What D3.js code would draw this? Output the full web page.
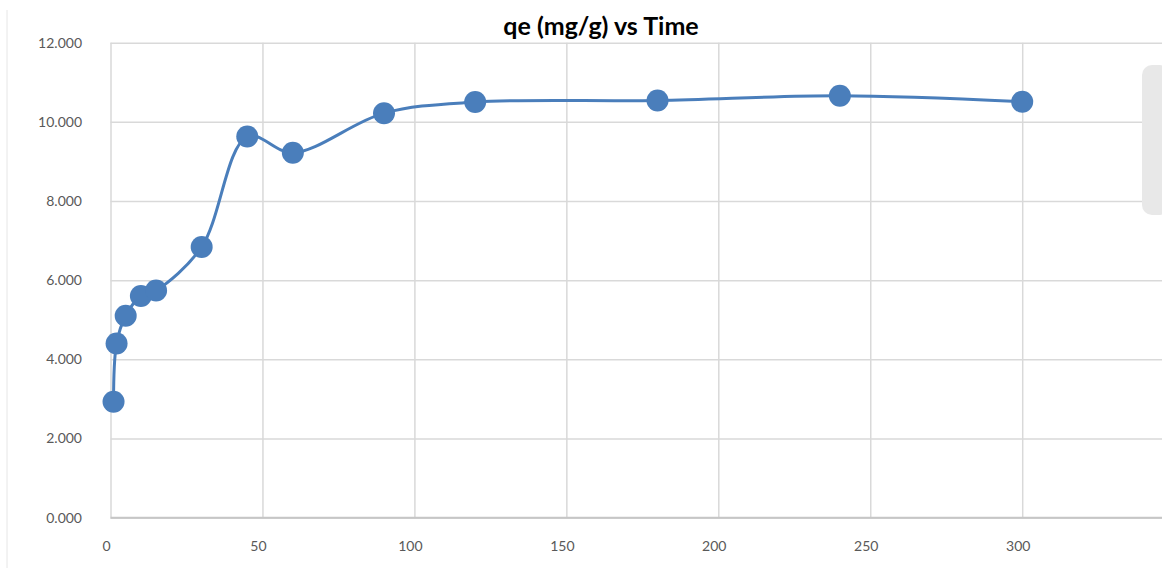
<!DOCTYPE html>
<html>
<head>
<meta charset="utf-8">
<script src="https://cdn.jsdelivr.net/npm/d3@7"></script>
<style>
  body { margin: 0; background: #fff; }
  svg { display: block; }
</style>
</head>
<body>
<svg id="chart" width="1174" height="568"></svg>
<script>
// time (min) and qe (mg/g)
var times = [1, 2, 5, 10, 15, 30, 45, 60, 90, 120, 180, 240, 300];
var qe = [2.93, 4.40, 5.10, 5.60, 5.74, 6.84, 9.63, 9.22, 10.22, 10.50, 10.54, 10.66, 10.51];
var xTicks = [0, 50, 100, 150, 200, 250, 300];
var yTicks = [0, 2, 4, 6, 8, 10, 12];
var title = "qe (mg/g) vs Time";

var svg = d3.select("#chart");
var plotLeft = 110.5, plotRight = 1162, plotTop = 42.7, plotBottom = 517.7;

var x = d3.scaleLinear().domain([0, 346]).range([plotLeft, plotRight]);
var y = d3.scaleLinear().domain([0, 12]).range([plotBottom, plotTop]);

// faint frame line on the left
svg.append("line")
  .attr("x1", 7).attr("x2", 7)
  .attr("y1", 10).attr("y2", 568)
  .style("stroke", "#e6e6e6")
  .style("stroke-width", 1);

// horizontal gridlines
svg.append("g")
  .attr("transform", "translate(" + plotLeft + ",0)")
  .call(d3.axisLeft(y).tickValues(yTicks).tickSize(-(plotRight - plotLeft)).tickFormat(""))
  .call(function(g) {
    g.select(".domain").remove();
    g.selectAll("line").style("stroke", "#d9d9d9").style("stroke-width", 1.5);
  });

// vertical gridlines
svg.append("g")
  .attr("transform", "translate(0," + plotBottom + ")")
  .call(d3.axisBottom(x).tickValues(xTicks).tickSize(-(plotBottom - plotTop)).tickFormat(""))
  .call(function(g) {
    g.select(".domain").remove();
    g.selectAll("line").style("stroke", "#d9d9d9").style("stroke-width", 1.5);
  });

// bottom axis line
svg.append("line")
  .attr("x1", plotLeft).attr("x2", plotRight)
  .attr("y1", plotBottom).attr("y2", plotBottom)
  .style("stroke", "#c6c6c6")
  .style("stroke-width", 2);

// y labels
svg.append("g")
  .selectAll("text")
  .data(yTicks)
  .enter()
  .append("text")
    .attr("x", 82)
    .attr("y", function(d) { return y(d); })
    .attr("dy", "0.35em")
    .attr("text-anchor", "end")
    .text(function(d) { return d3.format(".3f")(d); })
    .style("font-family", "Lato")
    .style("font-size", "14px")
    .style("fill", "#595959");

// x labels
svg.append("g")
  .selectAll("text")
  .data(xTicks)
  .enter()
  .append("text")
    .attr("x", function(d) { return x(d) - 4; })
    .attr("y", 546)
    .attr("dy", "0.35em")
    .attr("text-anchor", "middle")
    .text(function(d) { return d; })
    .style("font-family", "Lato")
    .style("font-size", "14px")
    .style("fill", "#595959");

// scrollbar-like grey box at the right
svg.append("rect")
  .attr("x", 1142).attr("y", 65)
  .attr("width", 28).attr("height", 150)
  .attr("rx", 10)
  .style("fill", "#e8e8e8");
svg.append("rect")
  .attr("x", 1162).attr("y", 0)
  .attr("width", 12).attr("height", 568)
  .style("fill", "#fff");

var pts = times.map(function(t, i) { return [t, qe[i]]; });

var line = d3.line()
  .x(function(d) { return x(d[0]); })
  .y(function(d) { return y(d[1]); })
  .curve(d3.curveCatmullRom.alpha(0.5));

svg.append("path")
  .datum(pts)
  .attr("d", line)
  .style("fill", "none")
  .style("stroke", "#4a7ebb")
  .style("stroke-width", 3);

svg.append("g")
  .selectAll("circle")
  .data(pts)
  .enter()
  .append("circle")
    .attr("cx", function(d) { return x(d[0]); })
    .attr("cy", function(d) { return y(d[1]); })
    .attr("r", 11)
    .style("fill", "#4a7ebb");

svg.append("text")
  .attr("x", 601)
  .attr("y", 26)
  .attr("dy", "0.35em")
  .attr("text-anchor", "middle")
  .text(title)
  .style("font-family", "Lato")
  .style("font-weight", "bold")
  .style("font-size", "25px")
  .style("fill", "#000");
</script>
</body>
</html>
